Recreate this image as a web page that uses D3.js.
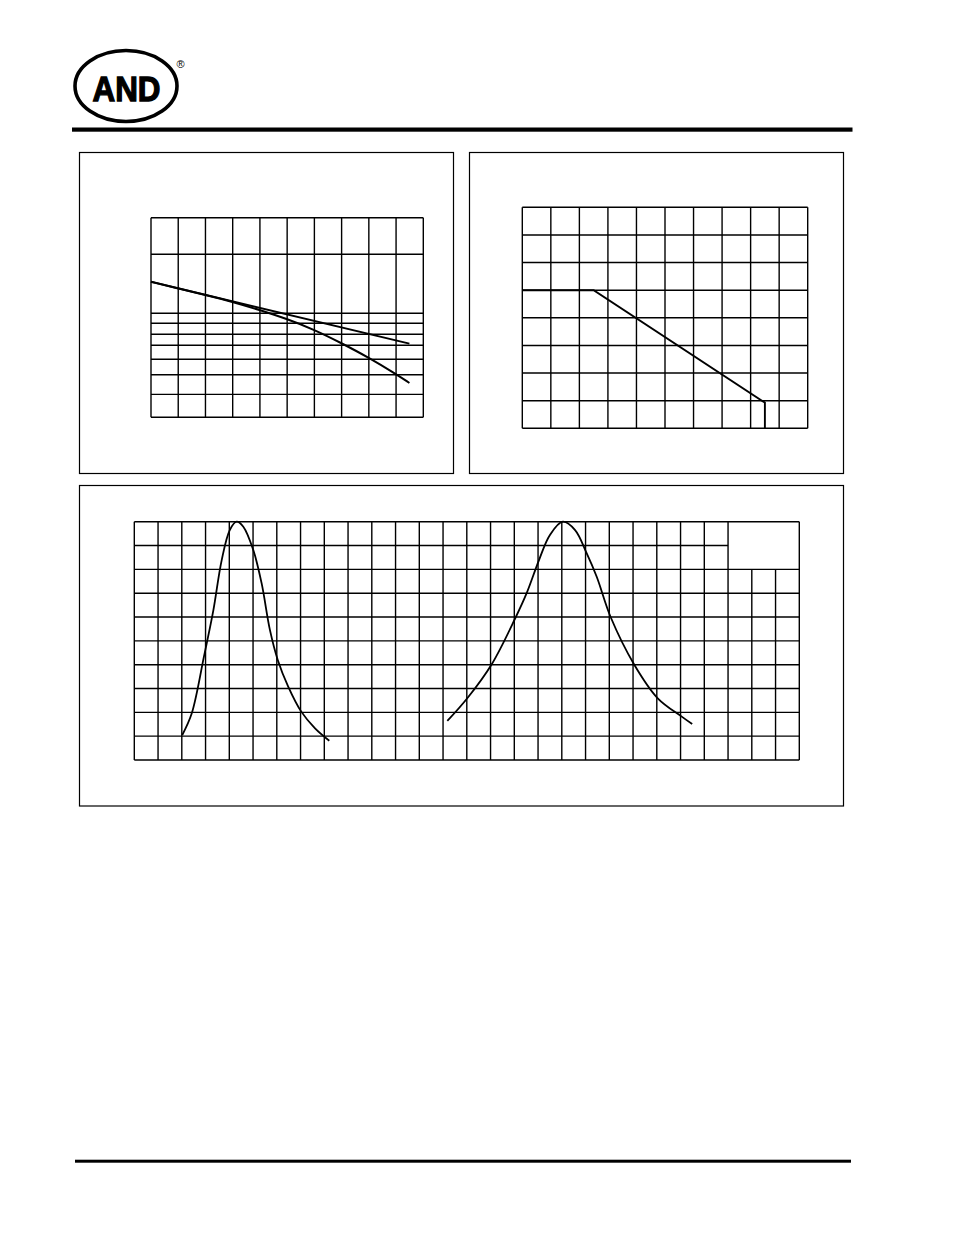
<!DOCTYPE html>
<html>
<head>
<meta charset="utf-8">
<script src="https://cdn.jsdelivr.net/npm/d3@7"></script>
<style>
  html, body { margin: 0; padding: 0; background: #fff; }
  svg { display: block; }
</style>
</head>
<body>
<div id="chart"></div>
<script>
// ---------- DATA ----------
// Chart 1 (top-left): grid and two curves, x in 0..100, y in 0..100 (relative units)
const c1XTicks = [0, 10, 20, 30, 40, 50, 60, 70, 80, 90, 100];
const c1YTicks = [0, 11.5, 21.3, 29.1, 36.1, 41.6, 47.1, 52.1, 81.7, 100];
const c1LineX = [0, 94.9];
const c1LineY = [67.9, 36.9];
const c1CurveX = [0, 10.2, 19.9, 29.9, 39.8, 49.7, 60.0, 69.9, 80.0, 89.8, 94.9];
const c1CurveY = [67.9, 64.5, 61.3, 57.9, 53.8, 49.4, 43.9, 37.2, 29.9, 21.8, 17.2];

// Chart 2 (top-right): derating line, x 0..100, y 0..8
const c2XTicks = [0, 10, 20, 30, 40, 50, 60, 70, 80, 90, 100];
const c2YTicks = [0, 1, 2, 3, 4, 5, 6, 7, 8];
const c2LineX = [0, 25, 85, 85];
const c2LineY = [5, 5, 0.93, 0];

// Chart 3 (bottom): spectral curves, x 0..28 columns, y 0..100 %
const c3XTicks = d3.range(0, 29);
const c3YTicks = [0, 10, 20, 30, 40, 50, 60, 70, 80, 90, 100];
const c3Curve1X = [2.02, 2.42, 2.93, 3.05, 3.33, 3.68, 4.02, 4.31, 4.59, 5.01, 5.36, 5.71, 6.04, 6.48, 7.03, 7.61, 8.21];
const c3Curve1Y = [10.5, 19.6, 43.3, 49.0, 62.9, 83.9, 96.5, 100, 97.9, 88.1, 74.2, 54.6, 42.0, 30.8, 20.3, 13.3, 8.1];
const c3Curve2X = [13.18, 14.02, 15.05, 16.06, 16.52, 17.04, 17.50, 18.04, 18.56, 19.05, 19.47, 20.06, 21.04, 22.04, 23.05, 23.49];
const c3Curve2Y = [16.4, 25.9, 40.2, 59.9, 70.0, 83.9, 94.4, 100, 96.5, 86.7, 76.9, 59.9, 40.2, 25.9, 18.2, 15.1];
// blank legend area in chart 3 (columns 25..28, rows 80..100)
const c3BlankX = [25, 28];
const c3BlankY = [80, 100];

// ---------- DRAW ----------
const W = 954, H = 1235;
const svg = d3.select("#chart").append("svg").attr("width", W).attr("height", H);
svg.append("rect").attr("width", W).attr("height", H).attr("fill", "#fff");

// Logo
const logo = svg.append("g");
logo.append("ellipse").attr("cx", 126).attr("cy", 86).attr("rx", 51).attr("ry", 35.5)
  .attr("fill", "none").attr("stroke", "#000").attr("stroke-width", 3.6);
logo.append("text").attr("x", 126.5).attr("y", 100.5).attr("text-anchor", "middle")
  .attr("font-family", "'Liberation Sans', Arial, sans-serif").attr("font-weight", "bold")
  .attr("font-size", 35).attr("textLength", 68).attr("lengthAdjust", "spacingAndGlyphs")
  .attr("stroke", "#000").attr("stroke-width", 1.3)
  .text("AND");
logo.append("text").attr("x", 180.5).attr("y", 67.5).attr("text-anchor", "middle")
  .attr("font-family", "'Liberation Sans', Arial, sans-serif").attr("font-size", 11)
  .text("®");

// Rules
svg.append("rect").attr("x", 72).attr("y", 127.5).attr("width", 780.5).attr("height", 4.2).attr("fill", "#000");
svg.append("rect").attr("x", 75).attr("y", 1159.7).attr("width", 776).attr("height", 3).attr("fill", "#000");

// Panels
const panels = [[79.5, 152.5, 374, 321], [469.5, 152.5, 374, 321], [79.5, 485.5, 764, 320.5]];
svg.selectAll("rect.panel").data(panels).enter().append("rect").attr("class", "panel")
  .attr("x", d => d[0]).attr("y", d => d[1]).attr("width", d => d[2]).attr("height", d => d[3])
  .attr("fill", "none").attr("stroke", "#000").attr("stroke-width", 1.2);

const gridW = 1.4;

function grid(g, x, y, xt, yt) {
  const [y0, y1] = y.range();
  const [x0, x1] = x.range();
  g.selectAll("line.v").data(xt).enter().append("line")
    .attr("x1", d => x(d)).attr("x2", d => x(d)).attr("y1", y0).attr("y2", y1)
    .attr("stroke", "#000").attr("stroke-width", gridW);
  g.selectAll("line.h").data(yt).enter().append("line")
    .attr("y1", d => y(d)).attr("y2", d => y(d)).attr("x1", x0).attr("x2", x1)
    .attr("stroke", "#000").attr("stroke-width", gridW);
}

// Chart 1
{
  const x = d3.scaleLinear().domain([0, 100]).range([151, 423.3]);
  const y = d3.scaleLinear().domain([0, 100]).range([417.3, 217.7]);
  const g = svg.append("g");
  grid(g, x, y, c1XTicks, c1YTicks);
  const line = d3.line().x(d => x(d[0])).y(d => y(d[1]));
  g.append("path").datum(c1LineX.map((v, i) => [v, c1LineY[i]]))
    .attr("d", line).attr("fill", "none").attr("stroke", "#000").attr("stroke-width", 2);
  const curve = d3.line().x(d => x(d[0])).y(d => y(d[1])).curve(d3.curveBasis);
  g.append("path").datum(c1CurveX.map((v, i) => [v, c1CurveY[i]]))
    .attr("d", curve).attr("fill", "none").attr("stroke", "#000").attr("stroke-width", 2);
}

// Chart 2
{
  const x = d3.scaleLinear().domain([0, 100]).range([522.3, 807.7]);
  const y = d3.scaleLinear().domain([0, 8]).range([428.3, 207.3]);
  const g = svg.append("g");
  grid(g, x, y, c2XTicks, c2YTicks);
  const line = d3.line().x(d => x(d[0])).y(d => y(d[1]));
  g.append("path").datum(c2LineX.map((v, i) => [v, c2LineY[i]]))
    .attr("d", line).attr("fill", "none").attr("stroke", "#000").attr("stroke-width", 1.9);
}

// Chart 3
{
  const x = d3.scaleLinear().domain([0, 28]).range([134.3, 799.3]);
  const y = d3.scaleLinear().domain([0, 100]).range([760, 521.7]);
  const g = svg.append("g");
  g.selectAll("line.v").data(c3XTicks).enter().append("line")
    .attr("x1", d => x(d)).attr("x2", d => x(d))
    .attr("y1", y(0))
    .attr("y2", d => (d > c3BlankX[0] && d < c3BlankX[1]) ? y(c3BlankY[0]) : y(100))
    .attr("stroke", "#000").attr("stroke-width", gridW);
  g.selectAll("line.h").data(c3YTicks).enter().append("line")
    .attr("y1", d => y(d)).attr("y2", d => y(d))
    .attr("x1", x(0))
    .attr("x2", d => (d > c3BlankY[0] && d < c3BlankY[1]) ? x(c3BlankX[0]) : x(28))
    .attr("stroke", "#000").attr("stroke-width", gridW);
  const line = d3.line().x(d => x(d[0])).y(d => y(d[1])).curve(d3.curveCatmullRom.alpha(0.5));
  g.append("path").datum(c3Curve1X.map((v, i) => [v, c3Curve1Y[i]]))
    .attr("d", line).attr("fill", "none").attr("stroke", "#000").attr("stroke-width", 1.8);
  g.append("path").datum(c3Curve2X.map((v, i) => [v, c3Curve2Y[i]]))
    .attr("d", line).attr("fill", "none").attr("stroke", "#000").attr("stroke-width", 1.8);
}
</script>
</body>
</html>
